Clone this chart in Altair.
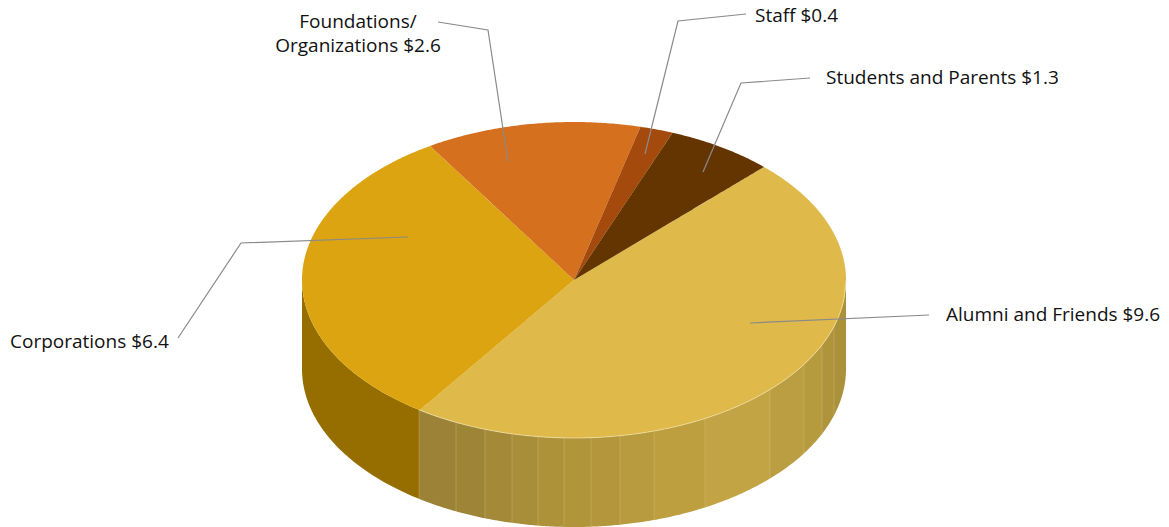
import math
import altair as alt
import pandas as pd

# --- chart values
names = ["Alumni and Friends", "Corporations", "Foundations/Organizations", "Staff", "Students and Parents"]
values = [9.6, 6.4, 2.6, 0.4, 1.3]
top_colors = ["#e0b94b", "#dca411", "#d5701f", "#a44a0c", "#653500"]

# --- drawing geometry (reference-pixel scale units)
CX, CY, RX, RY, DEPTH = 574.0, 280.0, 272.0, 158.0, 89.0
START_DEG = 45.7
W, H = 1153, 519
X_SCALE = alt.Scale(domain=[8, 8 + W], range=[0, W], nice=False, zero=False)
Y_SCALE = alt.Scale(domain=[8, 8 + H], range=[0, H], nice=False, zero=False)

# side-wall strips of the largest slice, left to right
strip_edges = [419, 456, 485, 512, 538, 564, 591, 620, 654, 705, 770, 804, 822, 834, 846]
strip_colors = ["#9b8236", "#9d8436", "#a38938", "#a98e39", "#ae923a", "#b1953b", "#b4973c",
                "#b89b3e", "#bd9f40", "#c3a445", "#bb9e41", "#b59a3e", "#af943c", "#ac913b"]
corp_wall_color = "#966e00"
corp_wall_edges = [302, 419]

# leader lines and labels
leaders = {
    "Foundations": [(438, 22), (488, 30), (508, 162)],
    "Staff": [(746, 14), (678, 21), (645, 154)],
    "Students": [(810, 78), (741, 83), (703, 172)],
    "Corporations": [(178, 338), (241, 243), (408, 237)],
    "Alumni": [(750, 323), (929, 315)],
}
labels = [
    ("Foundations/", 358, 22, "center"),
    ("Organizations $2.6", 358, 46, "center"),
    ("Staff $0.4", 755, 16, "left"),
    ("Students and Parents $1.3", 826, 78, "left"),
    ("Corporations $6.4", 10, 342, "left"),
    ("Alumni and Friends $9.6", 946, 315, "left"),
]


def ell_y(x):
    u = max(-1.0, min(1.0, (x - CX) / RX))
    return CY + RY * math.sqrt(1 - u * u)


def sector_rows(name, a0, a1):
    """a0 > a1 in degrees, clockwise slice: x with lower and upper y of the convex outline."""
    n = max(2, int((a0 - a1) / 0.5))
    angs = [a0 + (a1 - a0) * i / n for i in range(n + 1)]
    for special in (0, -180, 180, 90, -90):
        if a1 < special < a0:
            angs.append(special)
    angs.sort(reverse=True)
    pts = [(CX, CY)] + [(CX + RX * math.cos(math.radians(a)), CY - RY * math.sin(math.radians(a))) for a in angs]
    edges = list(zip(pts, pts[1:] + pts[:1]))
    rows = []
    for x in sorted({p[0] for p in pts}):
        ys = []
        for (x0, y0), (x1, y1) in edges:
            if min(x0, x1) <= x <= max(x0, x1):
                if x0 == x1:
                    ys += [y0, y1]
                else:
                    ys.append(y0 + (y1 - y0) * (x - x0) / (x1 - x0))
        rows.append({"name": name, "x": x, "y": min(ys), "y2": max(ys)})
    return rows


total = sum(values)
rows = []
a = START_DEG
for nm, v in zip(names, values):
    sweep = 360 * v / total
    rows += sector_rows(nm, a, a - sweep)
    a -= sweep
top_df = pd.DataFrame(rows)


def wall_rows(key, color, x0, x1):
    out = []
    steps = max(2, int((x1 - x0) / 2))
    xs = [x0 + (x1 - x0) * i / steps for i in range(steps + 1)]
    # denser near the vertical ends of the ellipse
    if x0 <= CX - RX + 1:
        xs = [CX - RX + (x1 - x0) * (i / 60) ** 2 for i in range(61)]
    if x1 >= CX + RX - 1:
        xs = [CX + RX - (x1 - x0) * (i / 30) ** 2 for i in range(31)][::-1]
    for x in xs:
        t = ell_y(x)
        out.append({"key": key, "color": color, "x": x, "y": t, "y2": t + DEPTH})
    return out


wall = wall_rows("corp", corp_wall_color, *corp_wall_edges)
for i, c in enumerate(strip_colors):
    wall += wall_rows(f"s{i}", c, strip_edges[i], strip_edges[i + 1])
wall_df = pd.DataFrame(wall)

sep_df = pd.DataFrame([{"x": x, "y": ell_y(x), "y2": ell_y(x) + DEPTH} for x in strip_edges[:-1]])
edge_df = pd.DataFrame([{"x": strip_edges[0] + i * (846 - strip_edges[0]) / 200,
                         "y": ell_y(strip_edges[0] + i * (846 - strip_edges[0]) / 200)} for i in range(201)])
lead_df = pd.DataFrame([{"k": k, "i": i, "x": p[0], "y": p[1]} for k, ps in leaders.items() for i, p in enumerate(ps)])
text_df = pd.DataFrame([{"t": t, "x": x, "y": y, "al": al} for t, x, y, al in labels])

X = alt.X("x:Q", scale=X_SCALE, axis=None)
Y = alt.Y("y:Q", scale=Y_SCALE, axis=None)

wall_layer = alt.Chart(wall_df).mark_area(opacity=1).encode(
    x=X, y=Y, y2="y2:Q", color=alt.Color("color:N", scale=None), detail="key:N")
sep_layer = alt.Chart(sep_df).mark_rule(color="#dccb8c", opacity=0.4, strokeWidth=0.8).encode(x=X, y=Y, y2="y2:Q")
top_layer = alt.Chart(top_df).mark_area(opacity=1).encode(
    x=X, y=Y, y2="y2:Q",
    color=alt.Color("name:N", scale=alt.Scale(domain=names, range=top_colors), legend=None),
    detail="name:N")
edge_layer = alt.Chart(edge_df).mark_line(color="#f0e2ae", strokeWidth=0.7).encode(x=X, y=Y)
lead_layer = alt.Chart(lead_df).mark_line(color="#8a8a8a", strokeWidth=1.2).encode(
    x=X, y=Y, detail="k:N", order="i:Q")

text_layers = []
for al in ("left", "center"):
    text_layers.append(
        alt.Chart(text_df[text_df.al == al]).mark_text(
            align=al, baseline="middle", font="Open Sans", fontSize=19, color="#111111"
        ).encode(x=X, y=Y, text="t:N"))

chart = alt.layer(wall_layer, sep_layer, top_layer, edge_layer, lead_layer, *text_layers).properties(
    width=W, height=H, padding=0, autosize=alt.AutoSizeParams(type="none")
).configure_view(stroke=None)

chart.save("out.html", embed_options={"renderer": "svg", "actions": False})
